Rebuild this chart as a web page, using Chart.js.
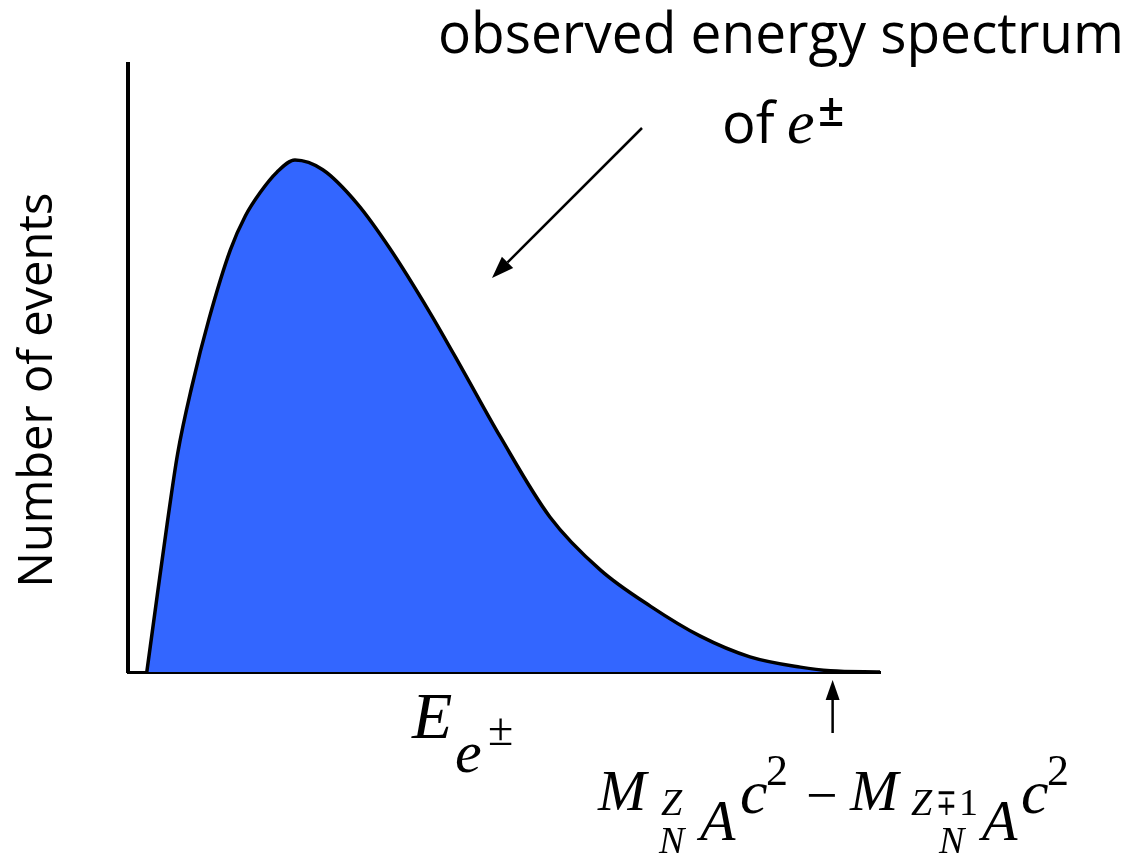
<!DOCTYPE html>
<html>
<head>
<meta charset="utf-8">
<script src="https://cdn.jsdelivr.net/npm/chart.js@4"></script>
<style>
html,body{margin:0;padding:0;background:#fff;}
#wrap{width:1134px;height:859px;position:relative;}
</style>
</head>
<body>
<div id="wrap"><canvas id="c"></canvas></div>
<script>
// Energy (arbitrary units) and number of events (arbitrary units)
const energy = [0.25, 0.39, 0.52, 0.66, 0.85, 1.08, 1.36, 1.56, 1.76, 1.98, 2.22, 2.59, 3.05, 3.48, 4.02, 4.45, 4.95, 5.61, 6.28, 6.95, 7.61, 8.27, 8.94, 9.34, 10];
const events = [0, 1.27, 2.43, 3.59, 4.70, 5.82, 6.94, 7.50, 7.89, 8.22, 8.42, 8.26, 7.70, 6.97, 5.90, 4.97, 3.87, 2.55, 1.68, 1.08, 0.59, 0.25, 0.08, 0.02, 0];
const endpointEnergy = [9.37];

const yLabel = "Number of events";
const titleLine1 = "observed energy spectrum";
const titleLine2 = "of ";

const points = energy.map((e, i) => ({x: e, y: events[i]}));

function arrow(ctx, x1, y1, x2, y2, lw, headLen, headHalf) {
  const ang = Math.atan2(y2 - y1, x2 - x1);
  const bx = x2 - headLen * Math.cos(ang), by = y2 - headLen * Math.sin(ang);
  ctx.save();
  ctx.strokeStyle = '#000'; ctx.fillStyle = '#000'; ctx.lineWidth = lw;
  ctx.beginPath(); ctx.moveTo(x1, y1); ctx.lineTo(bx, by); ctx.stroke();
  ctx.beginPath();
  ctx.moveTo(x2, y2);
  ctx.lineTo(bx + headHalf * Math.sin(ang), by - headHalf * Math.cos(ang));
  ctx.lineTo(bx - headHalf * Math.sin(ang), by + headHalf * Math.cos(ang));
  ctx.closePath(); ctx.fill();
  ctx.restore();
}

function txt(ctx, s, x, y, font, maxW) {
  ctx.font = font;
  if (maxW) ctx.fillText(s, x, y, maxW); else ctx.fillText(s, x, y);
}

const annotations = {
  id: 'annotations',
  afterDraw(chart) {
    const ctx = chart.ctx;
    const xs = chart.scales.x;
    ctx.save();
    ctx.fillStyle = '#000';
    ctx.textBaseline = 'alphabetic';
    ctx.textAlign = 'left';
    const sans = '"Open Sans", "Noto Sans", sans-serif';
    const serif = '"Liberation Serif", "Times New Roman", serif';

    // title
    txt(ctx, titleLine1, 438, 53, '56px ' + sans, 686);
    txt(ctx, titleLine2, 722, 143, '56px ' + sans);
    txt(ctx, 'e', 787, 143, 'italic 62px ' + serif);
    txt(ctx, '\u00B1', 818, 126, '600 46px ' + sans);

    // pointer arrow
    arrow(ctx, 642, 128, 492, 278, 2.5, 22, 8);

    // y label
    ctx.save();
    ctx.translate(52, 390);
    ctx.rotate(-Math.PI / 2);
    ctx.textAlign = 'center';
    txt(ctx, yLabel, 0, 0, '48px ' + sans, 395);
    ctx.restore();

    // x label E_e±
    txt(ctx, 'E', 412, 738, 'italic 66px ' + serif);
    txt(ctx, 'e', 455, 772, 'italic 60px ' + serif);
    txt(ctx, '\u00B1', 488, 745, '46px ' + serif);

    // endpoint arrow
    const ex = xs.getPixelForValue(endpointEnergy[0]);
    arrow(ctx, ex, 733, ex, 680, 2.5, 20, 7);

    // formula
    txt(ctx, 'M', 598, 810, 'italic 58px ' + serif);
    txt(ctx, 'Z', 661, 815, 'italic 38px ' + serif);
    txt(ctx, 'N', 659, 853, 'italic 38px ' + serif);
    txt(ctx, 'A', 700, 840, 'italic 58px ' + serif);
    txt(ctx, 'c', 740, 813, 'italic 62px ' + serif);
    txt(ctx, '2', 766, 785, '44px ' + serif);
    txt(ctx, '\u2212', 806, 814, '56px ' + serif, 32);
    txt(ctx, 'M', 850, 810, 'italic 58px ' + serif);
    txt(ctx, 'Z', 911, 815, 'italic 38px ' + serif);
    txt(ctx, '\u2213', 936, 815, '38px ' + serif, 21);
    txt(ctx, '1', 959, 815, '38px ' + serif);
    txt(ctx, 'N', 939, 853, 'italic 38px ' + serif);
    txt(ctx, 'A', 982, 840, 'italic 58px ' + serif);
    txt(ctx, 'c', 1021, 813, 'italic 62px ' + serif);
    txt(ctx, '2', 1047, 785, '44px ' + serif);
    ctx.restore();
  }
};

new Chart(document.getElementById('c'), {
  type: 'line',
  data: {
    datasets: [{
      data: points,
      fill: 'origin',
      backgroundColor: '#3366FF',
      borderColor: '#000',
      borderWidth: 3.5,
      pointRadius: 0,
      cubicInterpolationMode: 'monotone'
    }]
  },
  options: {
    responsive: true,
    maintainAspectRatio: false,
    animation: false,
    events: [],
    layout: {padding: {left: 128, top: 64, right: 254, bottom: 187}},
    plugins: {legend: {display: false}, tooltip: {enabled: false}, title: {display: false}},
    scales: {
      x: {
        type: 'linear', min: 0, max: 10,
        grid: {display: false},
        ticks: {display: false},
        border: {display: true, color: '#000', width: 3},
        afterFit(scale) { scale.height = 0; }
      },
      y: {
        min: 0, max: 10,
        grid: {display: false},
        ticks: {display: false},
        border: {display: true, color: '#000', width: 4},
        afterFit(scale) { scale.width = 0; }
      }
    }
  },
  plugins: [annotations]
});
</script>
</body>
</html>
